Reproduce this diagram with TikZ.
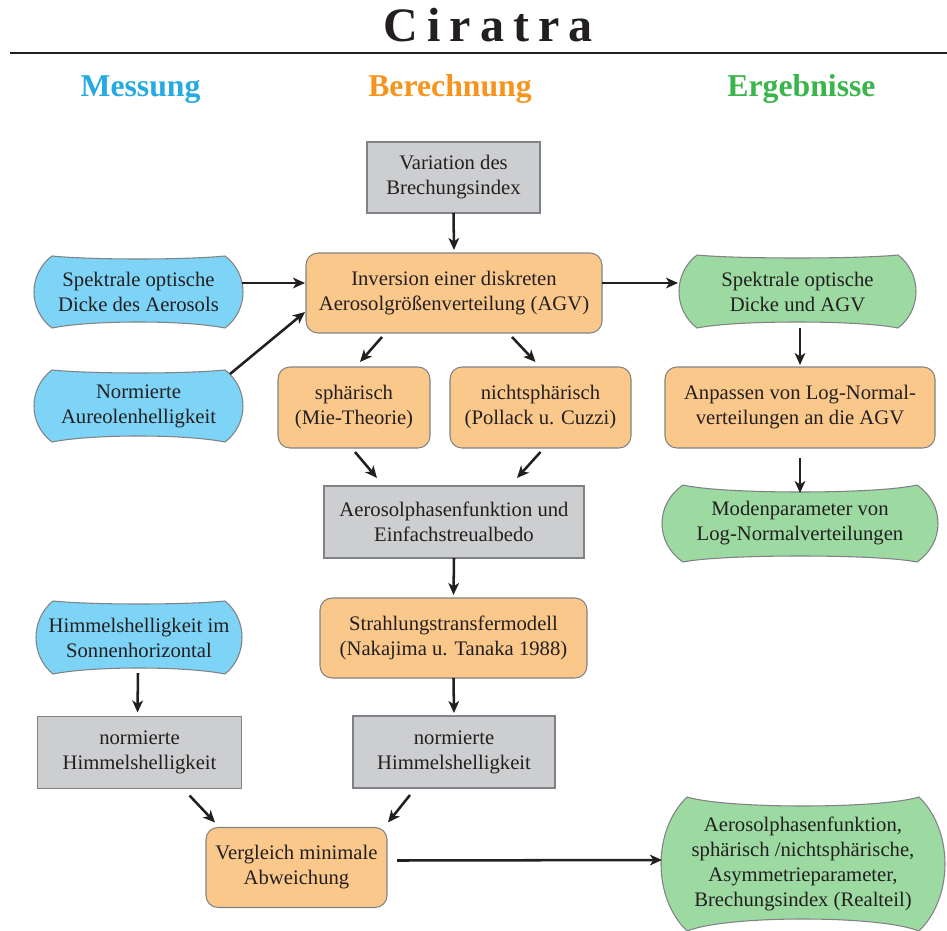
\documentclass[tikz,border=0pt]{standalone}
\usepackage{fontspec}
\setmainfont{Liberation Serif}
\newfontfamily\titlefont[LetterSpace=19]{Liberation Serif}
\usetikzlibrary{arrows.meta,calc,backgrounds}
\definecolor{ink}{RGB}{35,31,32}
\definecolor{edge}{RGB}{128,130,133}
\definecolor{mblue}{RGB}{39,170,225}
\definecolor{borange}{RGB}{247,148,29}
\definecolor{egreen}{RGB}{57,181,74}
\definecolor{fblue}{RGB}{125,212,247}
\definecolor{forange}{RGB}{251,200,140}
\definecolor{fgreen}{RGB}{156,218,162}
\definecolor{fgray}{RGB}{205,206,208}

\tikzset{
  dims/.style 2 args={minimum width=#1*0.75pt, minimum height=#2*0.75pt},
  grau/.style={draw=edge, fill=fgray, line width=0.8pt},
  rund/.style={draw=edge, fill=forange, line width=0.8pt, rounded corners=9pt},
  welle/.style={rectangle},
  kopf/.style={font=\fontsize{23.8}{28}\selectfont\bfseries, anchor=base},
  pfeil/.style={-{Stealth[length=9pt,width=8pt,inset=2.5pt]}, line width=1.9pt, draw=ink},
}

% node, fill, bulge of the sides, sag of top and bottom
\newcommand{\wellenform}[5]{%
  \path[draw=edge, fill=#2, line width=0.8pt]
    ($(#1.north west)+(#3,0)$)
    .. controls ($(#1.north west)+(#3+40,4*#4/3)$) and ($(#1.north east)+(-#3-40,4*#4/3)$) .. ($(#1.north east)+(-#3,0)$)
    .. controls ($(#1.north east)!0.25!(#1.south east)+(#3/3,0)$) and ($(#1.south east)!0.25!(#1.north east)+(#3/3,0)$) .. ($(#1.south east)+(-#3,0)$)
    .. controls ($(#1.south east)+(-#3-40,-4*#5/3)$) and ($(#1.south west)+(#3+40,-4*#5/3)$) .. ($(#1.south west)+(#3,0)$)
    .. controls ($(#1.south west)!0.25!(#1.north west)+(-#3/3,0)$) and ($(#1.north west)!0.25!(#1.south west)+(-#3/3,0)$) .. cycle;
}

\begin{document}
\begin{tikzpicture}[x=0.75pt, y=-0.75pt,
  every node/.style={font=\fontsize{15.5}{18.75}\selectfont, text=ink, align=center, inner sep=0pt, outer sep=0pt}]
\useasboundingbox (0,0) rectangle (947,931);

\node[anchor=base, font=\fontsize{36}{40}\selectfont\titlefont\bfseries] (titel) at (488,42) {Ciratra};
\draw[line width=1.5pt, ink] (10,53) -- (947,53);

\node[kopf, text=mblue] (messung) at (140.5,97) {Messung};
\node[kopf, text=borange] (berechnung) at (450,97) {Berechnung};
\node[kopf, text=egreen] (ergebnisse) at (801.5,97) {Ergebnisse};

\node[grau, dims={173}{71}] (var) at (453.5,177.5) {Variation des\\Brechungsindex};
\node[rund, dims={296}{80}] (inv) at (454,293) {Inversion einer diskreten\\Aerosolgrößenverteilung (AGV)};
\node[welle, dims={209}{72}] (sod) at (138.5,292) {Spektrale optische\\Dicke des Aerosols};
\node[welle, dims={209}{72}] (aur) at (138.5,406) {Normierte\\Aureolenhelligkeit};
\node[welle, dims={237}{73}] (sodA) at (797.5,291.5) {Spektrale optische\\Dicke und AGV};
\node[rund, dims={152}{81}] (sph) at (354,407.5) {sphärisch\\(Mie-Theorie)};
\node[rund, dims={181}{81}] (nsph) at (540.5,407.5) {nichtsphärisch\\(Pollack u. Cuzzi)};
\node[rund, dims={270}{81}] (anp) at (800,407.5) {Anpassen von Log-Normal-\\verteilungen an die AGV};
\node[welle, dims={276}{77}] (mod) at (800,523.5) {Modenparameter von\\Log-Normalverteilungen};
\node[grau, dims={260}{72}] (aph) at (454,522) {Aerosolphasenfunktion und\\Einfachstreualbedo};
\node[rund, dims={267}{80}] (srt) at (453.5,638) {Strahlungstransfermodell\\(Nakajima u. Tanaka 1988)};
\node[welle, dims={206}{73}] (him) at (139,637.5) {Himmelshelligkeit im\\Sonnenhorizontal};
\node[grau, dims={204}{72}] (nhL) at (139.5,752.5) {normierte\\Himmelshelligkeit};
\node[grau, dims={202}{72}] (nhR) at (454,752) {normierte\\Himmelshelligkeit};
\node[rund, dims={181}{80}] (vgl) at (296.5,867.5) {Vergleich minimale\\Abweichung};
\node[welle, dims={284}{134}] (res) at (803,864) {Aerosolphasenfunktion,\\sphärisch /nichtsphärische,\\Asymmetrieparameter,\\Brechungsindex (Realteil)};

\begin{scope}[on background layer]
  \foreach \n/\f/\b/\s/\t in {sod/fblue/18/3/6, aur/fblue/18/3/6, him/fblue/17/3/6,
      sodA/fgreen/18/3/6, mod/fgreen/21/7/6, res/fgreen/26/9/12}
    {\wellenform{\n}{\f}{\b}{\s}{\t}}
\end{scope}

\draw[pfeil] (var.south) -- ($(inv.north)+(0,-3)$);
\draw[pfeil] ($(sod.east)+(-1,-9)$) -- ($(inv.west)+(-1,-10)$);
\draw[pfeil] ($(aur.north east)+(-13,4)$) -- ($(inv.south west)+(-1,-21)$);
\draw[pfeil] ($(inv.east)+(0,-10)$) -- ($(sodA.west)+(-1,-8.5)$);
\draw[pfeil] ($(inv.south)+(-72,4)$) -- ($(sph.north)+(6,-5)$);
\draw[pfeil] ($(inv.south)+(58,4)$) -- ($(nsph.north)+(-5,-5)$);
\draw[pfeil] ($(sph.south)+(1,4)$) -- ($(aph.north)+(-77,-8)$);
\draw[pfeil] ($(nsph.south)+(0,4)$) -- ($(aph.north)+(63,-8)$);
\draw[pfeil] (aph.south) -- ($(srt.north)+(0,-3)$);
\draw[pfeil] (srt.south) -- ($(nhR.north)+(0,-3)$);
\draw[pfeil] ($(him.south)+(-1,-1)$) -- ($(nhL.north)+(-2,-4)$);
\draw[pfeil] ($(nhL.south)+(50,7)$) -- ($(vgl.north west)+(9,-5)$);
\draw[pfeil] ($(nhR.south)+(-44,7)$) -- ($(vgl.north east)+(1,-5)$);
\draw[pfeil] ($(vgl.east)+(10,-7)$) -- ($(res.west)+(1,-4)$);
\draw[pfeil] (anp.north |- sodA.south) -- ($(anp.north)+(0,-2)$);
\draw[pfeil] ($(anp.south)+(0,10)$) -- ($(mod.north)+(0,8)$);
\end{tikzpicture}
\end{document}
